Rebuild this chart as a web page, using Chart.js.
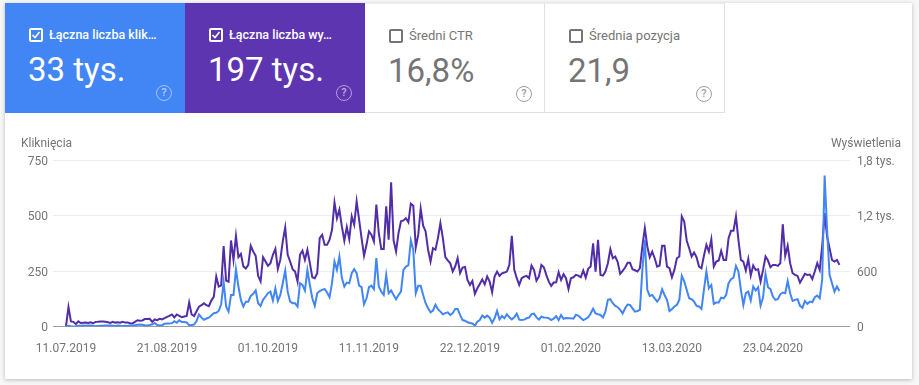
<!DOCTYPE html>
<html>
<head>
<meta charset="utf-8">
<script src="https://cdn.jsdelivr.net/npm/chart.js@4"></script>
<style>
    html, body { margin: 0; padding: 0; background: #f7f7f7; }
    body { width: 919px; height: 385px; overflow: hidden; position: relative; font-family: Roboto, sans-serif; }
    #panel { position: absolute; left: 5px; top: 3px; width: 907px; height: 376px; background: #fff; box-shadow: 0 1px 4px rgba(0,0,0,.25); }
    #myChart { position: absolute; left: 0; top: 0; }
    .card { position: absolute; top: 3px; height: 110px; box-sizing: border-box; color: #fff; }
    .card.blue { left: 5px; width: 180px; background: #4285f4; }
    .card.purple { left: 185px; width: 180px; background: #5e35b1; }
    .card.off { color: #757575; background: #fff; border-right: 1px solid #e0e0e0; border-bottom: 1px solid #e0e0e0; border-top: 1px solid #eee; }
    .card.ctr { left: 365px; width: 180px; }
    .card.pos { left: 545px; width: 180px; }
    .box { position: absolute; left: 24px; top: 25px; width: 14px; height: 14px; box-sizing: border-box; border: 2px solid #fff; border-radius: 2px; }
    .off .box { border-color: #757575; }
    .box svg { position: absolute; left: 0; top: 0; }
    .name { position: absolute; left: 44px; top: 23px; font-size: 12.5px; line-height: 17px; font-weight: 500; white-space: nowrap; }
    .off .name { font-weight: 400; font-size: 13px; }
    .num { position: absolute; left: 23px; top: 46px; font-size: 33px; line-height: 42px; white-space: nowrap; }
    .help { position: absolute; left: 151px; top: 82px; width: 16px; height: 16px; box-sizing: border-box; border: 1.5px solid rgba(255,255,255,.5); border-radius: 50%; font-size: 11px; font-weight: 500; line-height: 13px; text-align: center; color: rgba(255,255,255,.6); }
    .off .help { border-color: #9e9e9e; color: #9e9e9e; }
    .axisTitle { position: absolute; top: 136px; font-size: 12px; line-height: 15px; color: #757575; }
</style>
</head>
<body>
<div id="panel"></div>
<canvas id="myChart" width="919" height="385"></canvas>

<div class="card blue">
    <div class="box"><svg width="10" height="10" viewBox="0 0 10 10"><path d="M1.5 5 L4 7.5 L8.5 2" fill="none" stroke="#fff" stroke-width="1.6"/></svg></div>
    <div class="name">Łączna liczba klik…</div>
    <div class="num">33 tys.</div>
    <div class="help">?</div>
</div>
<div class="card purple">
    <div class="box"><svg width="10" height="10" viewBox="0 0 10 10"><path d="M1.5 5 L4 7.5 L8.5 2" fill="none" stroke="#fff" stroke-width="1.6"/></svg></div>
    <div class="name">Łączna liczba wy…</div>
    <div class="num">197 tys.</div>
    <div class="help">?</div>
</div>
<div class="card off ctr">
    <div class="box"></div>
    <div class="name">Średni CTR</div>
    <div class="num">16,8%</div>
    <div class="help">?</div>
</div>
<div class="card off pos">
    <div class="box"></div>
    <div class="name">Średnia pozycja</div>
    <div class="num">21,9</div>
    <div class="help">?</div>
</div>
<div class="axisTitle" style="left:21px">Kliknięcia</div>
<div class="axisTitle" style="right:18px">Wyświetlenia</div>

<script>
        // daily values, first day is 11.07.2019
        const clicks = [
            0,3,1,0,1,3,3,4,3,4,
            5,3,1,2,3,3,4,5,4,3,
            2,4,3,1,3,2,5,4,6,8,
            9,8,6,5,7,10,16,7,5,6,
            12,13,13,15,24,17,28,20,20,18,
            6,7,9,25,54,40,30,36,40,50,
            60,62,70,100,200,90,67,142,142,258,
            180,120,90,112,112,138,147,162,105,93,
            120,135,150,157,117,172,115,142,195,252,
            157,112,105,105,90,195,187,162,255,187,
            127,93,150,160,165,169,153,132,195,293,
            255,315,218,180,198,195,240,258,240,184,
            177,100,127,177,184,168,308,180,157,142,
            232,150,162,142,123,142,157,255,270,275,
            388,345,150,183,183,142,105,82,64,72,
            98,78,67,55,60,64,52,60,79,79,
            52,29,26,19,16,14,4,22,29,49,
            40,49,40,17,37,70,32,47,37,55,
            41,32,41,58,31,29,31,37,40,56,
            58,41,31,44,41,40,37,29,35,47,
            29,52,35,38,37,37,35,52,49,38,
            29,34,41,59,80,59,55,52,41,67,
            120,123,105,93,87,75,59,82,99,97,
            82,67,70,75,255,391,165,138,142,127,
            112,127,168,142,120,70,78,90,97,120,
            228,203,165,127,123,112,93,90,79,165,
            248,172,187,102,108,108,130,127,142,195,
            213,220,273,248,165,97,150,157,117,180,
            162,177,94,130,237,177,168,135,120,123,
            145,153,150,205,150,115,120,123,93,84,
            115,102,112,109,132,139,127,210,680,436,
            233,195,157,180,160
        ];
        const impressions = [
            5,210,55,50,25,55,38,40,42,38,
            45,35,50,52,55,55,52,45,38,50,
            42,45,40,50,42,43,35,33,50,68,
            62,65,80,82,83,50,76,68,83,76,
            90,105,115,130,98,130,115,100,108,115,
            260,130,113,165,215,230,250,230,220,280,
            320,540,432,445,870,497,485,930,720,980,
            750,785,650,627,667,873,811,765,548,487,
            750,703,656,685,775,840,623,720,920,1070,
            775,703,620,595,487,775,818,720,830,685,
            533,522,577,955,992,883,883,938,1046,1342,
            1170,1262,1082,927,1075,945,1190,1100,1353,1155,
            955,765,883,1028,992,920,1317,1010,837,837,
            1300,938,1560,930,811,1010,1137,1147,1170,1126,
            1328,1306,855,990,1274,1090,1028,830,703,847,
            830,955,1118,955,750,714,684,594,648,738,
            577,637,644,503,450,493,352,413,460,510,
            456,540,485,370,540,594,547,575,583,594,
            666,980,612,522,450,522,540,547,522,659,
            612,496,540,666,641,558,485,439,475,478,
            587,503,565,522,406,522,532,558,550,532,
            605,529,623,648,900,594,937,558,550,594,
            684,836,738,756,695,569,601,637,688,688,
            619,608,594,630,865,1063,865,749,810,738,
            648,659,872,872,648,630,532,612,738,756,
            1190,1135,930,846,756,800,749,648,630,764,
            883,810,944,648,702,713,818,720,720,955,
            1034,1034,1190,937,720,702,605,731,550,659,
            612,619,486,612,756,713,641,666,666,655,
            684,1106,764,872,684,576,558,547,475,522,
            569,558,561,514,594,684,612,865,1225,973,
            847,720,702,720,666
        ];
        const dateLabels = ['11.07.2019','21.08.2019','01.10.2019','11.11.2019','22.12.2019','01.02.2020','13.03.2020','23.04.2020'];
        const dayStep = 41;     // one date label every 41 days
        const clickTicks = [0,250,500,750];
        const impressionTicks = [0,600,1200,1800];
        const impressionTickLabels = ['0','600','1,2 tys.','1,8 tys.'];

        function toPoints(values){
            return values.map(function(v, i){ return {x: i, y: v}; });
        }

        const tickFont = {family: 'Roboto', size: 12};
        // an empty first line with a tiny line height nudges the y labels down to the gridline
        const yTickFont = {family: 'Roboto', size: 12, lineHeight: '3px'};
        const tickColor = '#757575';

        var ctx = document.getElementById('myChart').getContext('2d');
        var myChart = new Chart(ctx, {
            type: 'line',
            data: {
                datasets: [{
                    label: 'Kliknięcia',
                    data: toPoints(clicks),
                    yAxisID: 'y',
                    borderColor: '#4285f4',
                    borderWidth: 2,
                    pointRadius: 0,
                    tension: 0
                },{
                    label: 'Wyświetlenia',
                    data: toPoints(impressions),
                    yAxisID: 'y1',
                    borderColor: '#512da8',
                    borderWidth: 2,
                    pointRadius: 0,
                    tension: 0
                }]
            },
            options: {
                responsive: false,
                animation: false,
                events: [],
                layout: { padding: { top: 160, left: 0, right: 0, bottom: 0 } },
                plugins: { legend: { display: false }, tooltip: { enabled: false } },
                scales: {
                    x: {
                        type: 'linear',
                        min: -5.28,
                        max: 318.3,
                        border: { display: false },
                        grid: { display: false, drawTicks: false },
                        afterBuildTicks: function(scale){
                            scale.ticks = dateLabels.map(function(l, i){ return {value: i * dayStep}; });
                        },
                        afterFit: function(scale){ scale.height = 58.5; },
                        ticks: {
                            autoSkip: false,
                            maxRotation: 0,
                            padding: 15,
                            font: tickFont,
                            color: tickColor,
                            callback: function(value){ return dateLabels[Math.round(value / dayStep)]; }
                        }
                    },
                    y: {
                        position: 'left',
                        min: 0,
                        max: 750,
                        border: { display: false },
                        grid: {
                            drawTicks: false,
                            color: function(c){ return c.tick.value === 0 ? '#9e9e9e' : '#eeeeee'; }
                        },
                        afterBuildTicks: function(scale){
                            scale.ticks = clickTicks.map(function(v){ return {value: v}; });
                        },
                        afterFit: function(scale){ scale.width = 53; },
                        ticks: {
                            padding: 5,
                            font: yTickFont,
                            color: tickColor,
                            callback: function(value){ return ['', String(value)]; }
                        }
                    },
                    y1: {
                        position: 'right',
                        min: 0,
                        max: 1800,
                        border: { display: false },
                        grid: { display: false, drawTicks: false },
                        afterBuildTicks: function(scale){
                            scale.ticks = impressionTicks.map(function(v){ return {value: v}; });
                        },
                        afterFit: function(scale){ scale.width = 69; },
                        ticks: {
                            padding: 7,
                            font: yTickFont,
                            color: tickColor,
                            callback: function(value){ return ['', impressionTickLabels[impressionTicks.indexOf(value)]]; }
                        }
                    }
                }
            }
        });
</script>
</body>
</html>
